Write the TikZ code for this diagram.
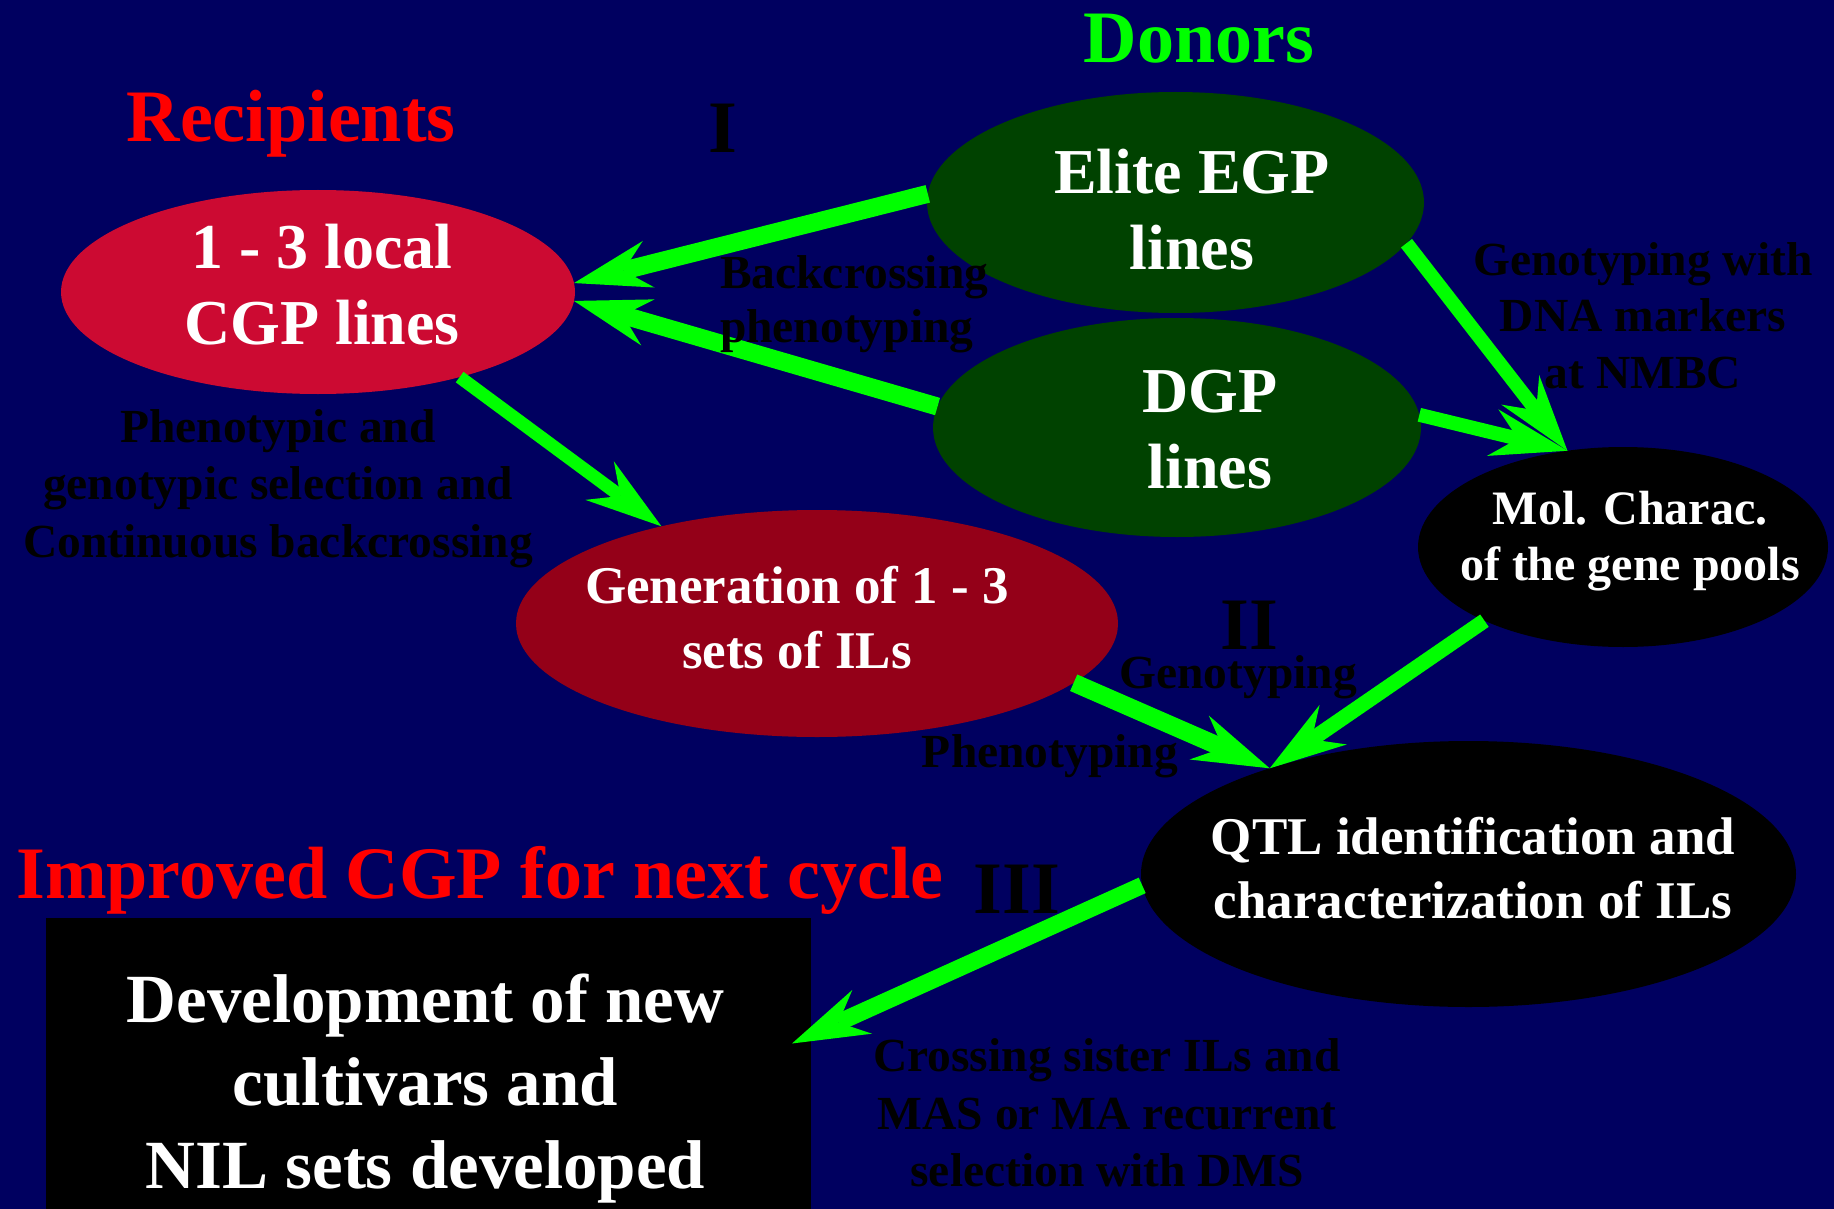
\documentclass[tikz,border=0pt]{standalone}
\usepackage{fontspec}
\setmainfont{Liberation Serif}
\usetikzlibrary{shapes.geometric,arrows.meta}

\definecolor{bgnavy}{RGB}{0,0,96}
\definecolor{cgpred}{RGB}{204,10,50}
\definecolor{ilred}{RGB}{148,0,24}
\definecolor{donorgreen}{RGB}{0,66,0}
\definecolor{flowgreen}{RGB}{0,255,0}
\definecolor{titlered}{RGB}{255,0,0}

% multi-line nodes are placed by the baseline of their last line
\tikzset{
  pool/.style={ellipse, draw=none, inner sep=0pt, outer sep=0pt},
  txt/.style={anchor=base, inner sep=0pt, outer sep=0pt, align=center, text=white},
  title/.style={anchor=base, inner sep=0pt, font=\bfseries\fontsize{74}{88}\selectfont},
  bigtext/.style={txt, font=\bfseries\fontsize{64}{76}\selectfont},
  midtext/.style={txt, font=\bfseries\fontsize{53}{64.5}\selectfont},
  smalltext/.style={txt, font=\bfseries\fontsize{48}{56}\selectfont},
  note/.style={anchor=base, inner sep=0pt, outer sep=0pt, align=center, text=black,
               font=\bfseries\fontsize{47.5}{57.3}\selectfont},
  flow/.style={draw=flowgreen, line width=#1,
               -{Stealth[length=77pt, width=48pt, inset=26pt, line width=0pt]}}
}

\begin{document}
\begin{tikzpicture}[x=1pt, y=-1pt]
  % background and page frame
  \fill[bgnavy] (0,0) rectangle (1834,1209);
  \useasboundingbox (0,0) rectangle (1834,1209);

  % gene pool ellipses
  \node[pool, fill=cgpred, minimum width=514pt, minimum height=204pt] (cgp) at (318,292) {};
  \node[pool, fill=donorgreen, minimum width=497pt, minimum height=221pt] (elite) at (1175.5,202.5) {};
  \node[pool, fill=donorgreen, minimum width=488pt, minimum height=219pt] (dgp) at (1177,427.5) {};
  \node[pool, fill=ilred, minimum width=602pt, minimum height=227pt] (gen) at (817,623.5) {};
  \node[pool, fill=black, minimum width=410pt, minimum height=200pt] (mol) at (1623,547) {};
  \node[pool, fill=black, minimum width=655pt, minimum height=266pt] (qtl) at (1468.5,874) {};
  \node[rectangle, fill=black, inner sep=0pt, outer sep=0pt,
        minimum width=765pt, minimum height=291pt] (dev) at (428.5,1063.5) {};

  % flow arrows
  \draw[flow=18pt] (elite.178) -- (cgp.2);
  \draw[flow=18pt] (dgp.175) -- (cgp.-2);
  \draw[flow=13pt] (cgp.-31) -- (gen.148);
  \draw[flow=14pt] (elite.-10) -- (mol.120);
  \draw[flow=14pt] (dgp.3) -- (mol.120);
  \draw[flow=18pt] (gen.-13) -- (qtl.152);
  \draw[flow=15pt] (mol.208) -- (qtl.152);
  \draw[flow=17pt] (qtl.182) -- ([xshift=-19pt, yshift=20pt]dev.east);

  % headings
  \node[title, text=titlered] (recipients) at (291,142) {Recipients};
  \node[title, text=flowgreen] (donors) at (1199,63) {Donors};
  \node[title, text=titlered] (improved) at (480,898) {Improved CGP for next cycle};
  \node[title, text=black] (stepone) at (723,153) {I};
  \node[title, text=black] (steptwo) at (1249,649) {II};
  \node[title, text=black] (stepthree) at (1017,913) {III};

  % texts inside the shapes
  \node[bigtext] (cgptext) at (322,344) {1 - 3 local\\CGP lines};
  \node[bigtext] (elitetext) at (1192,269.5) {Elite EGP\\lines};
  \node[bigtext] (dgptext) at (1210,488.5) {DGP\\lines};
  \node[midtext] (gentext) at (797,668) {Generation of 1 - 3\\sets of ILs};
  \node[smalltext] (moltext) at (1630,580.5) {Mol. Charac.\\of the gene pools};
  \node[midtext, font=\bfseries\fontsize{53}{64}\selectfont] (qtltext) at (1473,918.4)
       {QTL identification and\\characterization of ILs};
  \node[txt, font=\bfseries\fontsize{69}{83}\selectfont] (devtext) at (425.5,1188)
       {Development of new\\cultivars and\\NIL sets developed};

  % step annotations
  \node[note, anchor=base west, align=left, font=\bfseries\fontsize{47.5}{54}\selectfont]
       (backlabel) at (720,342) {Backcrossing\\phenotyping};
  \node[note, font=\bfseries\fontsize{47.5}{56.5}\selectfont] (genolabel) at (1643,388)
       {Genotyping with\\DNA markers\\at NMBC};
  \node[note] (sellabel) at (278,557)
       {Phenotypic and\\genotypic selection and\\Continuous backcrossing};
  \node[note] (genotyping) at (1238,688) {Genotyping};
  \node[note] (phenotyping) at (1050,767) {Phenotyping};
  \node[note] (crosslabel) at (1107,1186.4)
       {Crossing sister ILs and\\MAS or MA recurrent\\selection with DMS};
\end{tikzpicture}
\end{document}
